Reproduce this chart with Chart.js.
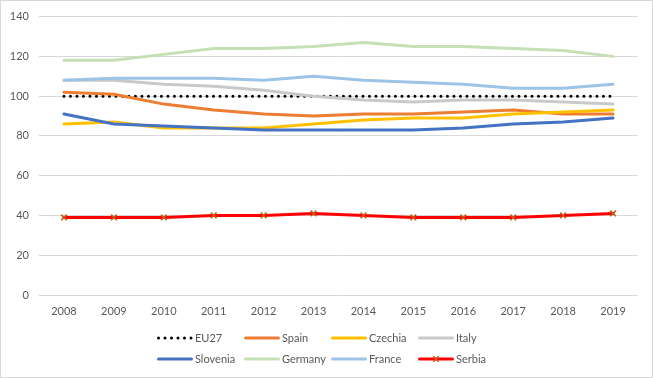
<!DOCTYPE html>
<html>
<head>
<meta charset="utf-8">
<script src="https://cdn.jsdelivr.net/npm/chart.js@4/dist/chart.umd.min.js"></script>
<style>
html,body{margin:0;padding:0;background:#fff;}
#wrap{position:relative;width:653px;height:378px;}
</style>
</head>
<body>
<div id="wrap"><canvas id="c" width="653" height="378"></canvas></div>
<script>
const years = ['2008','2009','2010','2011','2012','2013','2014','2015','2016','2017','2018','2019'];
const eu27     = [100,100,100,100,100,100,100,100,100,100,100,100];
const spain    = [102,101,96,93,91,90,91,91,92,93,91,91];
const czechia  = [86,87,84,84,84,86,88,89,89,91,92,93];
const italy    = [108,108,106,105,103,100,98,97,98,98,97,96];
const slovenia = [91,86,85,84,83,83,83,83,84,86,87,89];
const germany  = [118,118,121,124,124,125,127,125,125,124,123,120];
const france   = [108,109,109,109,108,110,108,107,106,104,104,106];
const serbia   = [39,39,39,40,40,41,40,39,39,39,40,41];
const yTicks = [0,20,40,60,80,100,120,140];

const FONT = 'Lato, "Open Sans", sans-serif';
const TXT = '#595959';

function ds(label, data, color, extra){
  return Object.assign({
    label, data, borderColor: color, backgroundColor: color,
    borderWidth: 3, pointRadius: 0, tension: 0, fill: false,
    borderCapStyle: 'round', borderJoinStyle: 'round'
  }, extra || {});
}
const datasets = [
  ds('EU27', eu27, '#000000', {borderDash:[0,6.5], borderWidth:3}),
  ds('Spain', spain, '#ED7D31'),
  ds('Czechia', czechia, '#FFC000'),
  ds('Italy', italy, '#C9C9C9'),
  ds('Slovenia', slovenia, '#4472C4'),
  ds('Germany', germany, '#C5E0B4'),
  ds('France', france, '#9DC3E6'),
  ds('Serbia', serbia, '#FF0000', {pointRadius:4, pointStyle:'crossRot', pointBorderColor:'#C55A11', pointBorderWidth:1.5, pointBackgroundColor:'#C55A11', pointHoverRadius:4})
];
datasets.forEach((d,i)=>{ d.order = datasets.length - i; });

const gridLegend = {
  id: 'gridLegend',
  beforeDraw(chart){
    const ctx = chart.ctx;
    ctx.save();
    ctx.fillStyle = '#fff';
    ctx.fillRect(0,0,chart.width,chart.height);
    ctx.restore();
  },
  afterDraw(chart){
    const ctx = chart.ctx;
    ctx.save();
    ctx.strokeStyle = '#D9D9D9';
    ctx.lineWidth = 1;
    ctx.strokeRect(0.5,0.5,chart.width-1,chart.height-1);
    const colX = [157,244,331,418];
    const rowY = [338,359];
    chart.data.datasets.forEach((d,i)=>{
      const x = colX[i%4], y = rowY[Math.floor(i/4)];
      ctx.save();
      ctx.strokeStyle = d.borderColor;
      ctx.lineWidth = d.borderWidth;
      ctx.lineCap = 'round';
      if (d.borderDash){ ctx.setLineDash(d.borderDash); }
      ctx.beginPath();
      ctx.moveTo(x+1.5,y); ctx.lineTo(x+34.5,y); ctx.stroke();
      ctx.restore();
      if (d.pointStyle === 'crossRot'){
        ctx.save();
        ctx.strokeStyle = d.pointBorderColor; ctx.lineWidth = 1.5;
        const cx = x+18, r = 2.8;
        ctx.beginPath();
        ctx.moveTo(cx-r,y-r); ctx.lineTo(cx+r,y+r);
        ctx.moveTo(cx+r,y-r); ctx.lineTo(cx-r,y+r);
        ctx.stroke();
        ctx.restore();
      }
      ctx.fillStyle = TXT;
      ctx.font = '11px ' + FONT;
      ctx.textBaseline = 'middle';
      ctx.textAlign = 'left';
      ctx.fillText(d.label, x+38, y);
    });
    ctx.restore();
  }
};

new Chart(document.getElementById('c'), {
  type: 'line',
  data: { labels: years, datasets },
  options: {
    responsive: false,
    animation: false,
    devicePixelRatio: 1,
    layout: { padding: { top: 15, right: 15, left: 0, bottom: 53 } },
    plugins: { legend: { display: false }, tooltip: { enabled: false } },
    scales: {
      x: {
        offset: true,
        grid: { display: false, drawTicks: false },
        border: { display: false },
        ticks: { color: TXT, font: { family: FONT, size: 11 }, padding: 10, maxRotation: 0 },
        afterFit(s){ s.height = 30; }
      },
      y: {
        min: 0, max: 140,
        afterBuildTicks(s){ s.ticks = yTicks.map(v=>({value:v})); },
        grid: { color: '#D9D9D9', lineWidth: 1, drawTicks: false },
        border: { display: false },
        ticks: { color: TXT, font: { family: FONT, size: 11 }, padding: 10 },
        afterFit(s){ s.width = 39; }
      }
    }
  },
  plugins: [gridLegend]
});
</script>
</body>
</html>
